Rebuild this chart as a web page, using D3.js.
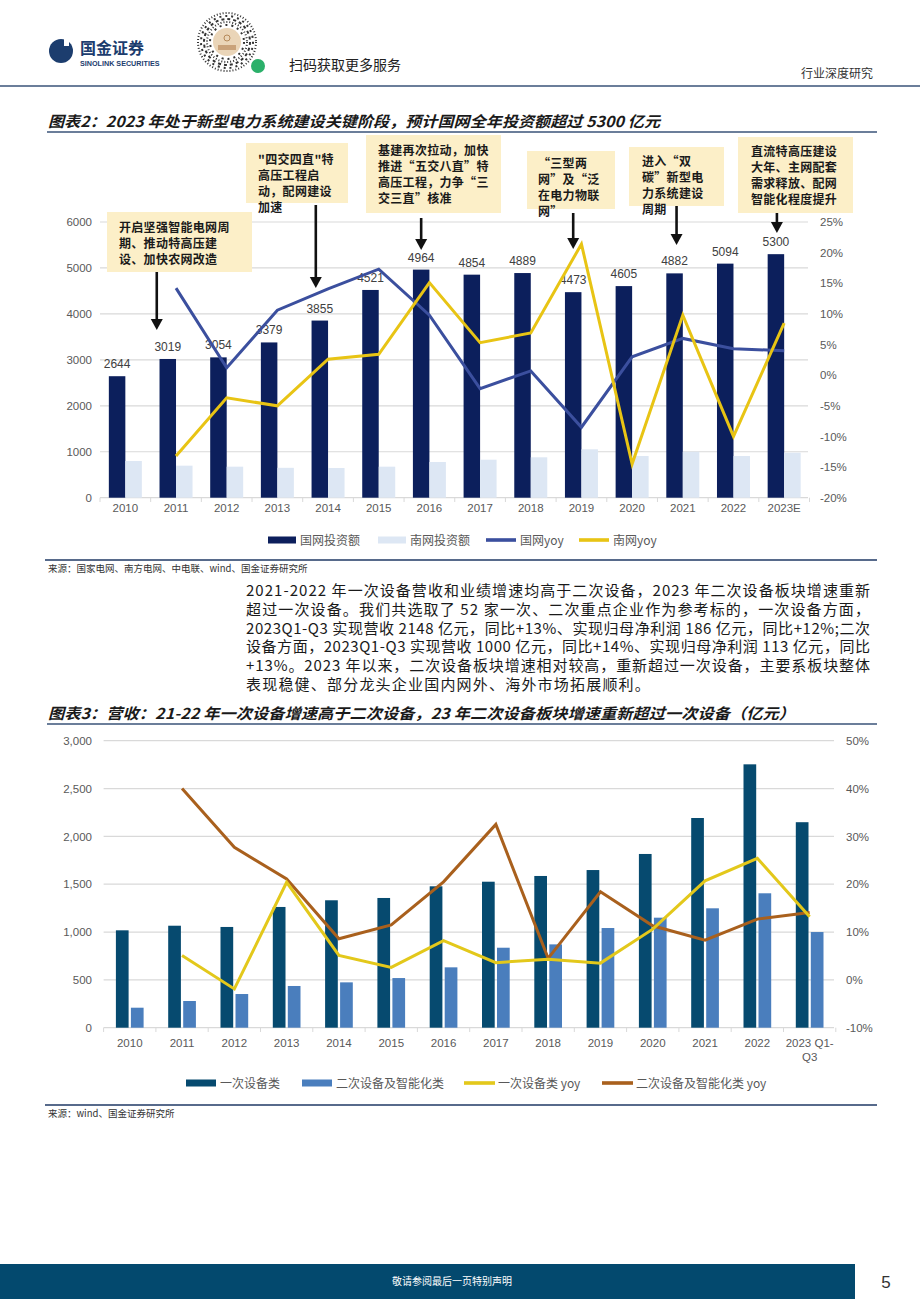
<!DOCTYPE html>
<head>
  <meta charset="utf-8" />
  <script src="https://d3js.org/d3.v7.min.js"></script>
  <style>
    body { margin: 0; background: #fff; }
    text { font-family: "Liberation Sans", Arial, sans-serif; }
    .cjk { font-family: "Noto Sans CJK SC", sans-serif; }
  </style>
</head>
<body>
<script>
// ---------- 图表2 数据 ----------
var years1 = ["2010","2011","2012","2013","2014","2015","2016","2017","2018","2019","2020","2021","2022","2023E"];
var sgccInv = [2644,3019,3054,3379,3855,4521,4964,4854,4889,4473,4605,4882,5094,5300];
var csgInv  = [799,697,675,650,646,675,777,827,879,1053,907,1001,907,980];
var sgccYoy = [null,14.2,1.2,10.6,14.1,17.3,9.8,-2.2,0.7,-8.5,3.0,6.0,4.3,4.0];
var csgYoy  = [null,-13.2,-3.7,-5.0,2.6,3.4,15.1,5.3,6.9,21.4,-14.5,9.8,-10.0,8.5];
var leftTicks1  = [0,1000,2000,3000,4000,5000,6000];
var rightTicks1 = [-20,-15,-10,-5,0,5,10,15,20,25];
var noteYears = ["2011","2014","2016","2019","2021","2023E"];
var noteTexts = [
  ["开启坚强智能电网周","期、推动特高压建","设、加快农网改造"],
  ["\"四交四直\"特","高压工程启","动，配网建设","加速"],
  ["基建再次拉动，加快","推进“五交八直”特","高压工程，力争“三","交三直”核准"],
  ["“三型两","网”及“泛","在电力物联","网”"],
  ["进入“双","碳”新型电","力系统建设","周期"],
  ["直流特高压建设","大年、主网配套","需求释放、配网","智能化程度提升"]
];
var legend1 = ["国网投资额","南网投资额","国网yoy","南网yoy"];

// ---------- 图表3 数据 ----------
var years2 = ["2010","2011","2012","2013","2014","2015","2016","2017","2018","2019","2020","2021","2022","2023 Q1-Q3"];
var primaryRev   = [1018,1066,1053,1262,1332,1356,1478,1526,1586,1648,1816,2192,2753,2148];
var secondaryRev = [209,279,352,436,474,519,631,836,871,1042,1150,1248,1405,1000];
var primaryYoy   = [null,5.1,-1.9,20.4,5.1,2.6,8.2,3.6,4.3,3.5,10.6,20.7,25.4,13.2];
var secondaryYoy = [null,40.0,27.7,21.1,8.6,11.5,20.5,32.5,4.5,18.4,11.3,8.3,12.7,14.1];
var leftTicks2  = [0,500,1000,1500,2000,2500,3000];
var rightTicks2 = [-10,0,10,20,30,40,50];
var legend2 = ["一次设备类","二次设备及智能化类","一次设备类 yoy","二次设备及智能化类 yoy"];

var paragraph = [
  "2021-2022 年一次设备营收和业绩增速均高于二次设备，2023 年二次设备板块增速重新",
  "超过一次设备。我们共选取了 52 家一次、二次重点企业作为参考标的，一次设备方面，",
  "2023Q1-Q3 实现营收 2148 亿元，同比+13%、实现归母净利润 186 亿元，同比+12%;二次",
  "设备方面，2023Q1-Q3 实现营收 1000 亿元，同比+14%、实现归母净利润 113 亿元，同比",
  "+13%。2023 年以来，二次设备板块增速相对较高，重新超过一次设备，主要系板块整体",
  "表现稳健、部分龙头企业国内网外、海外市场拓展顺利。"
];

var svg = d3.select("body").append("svg").attr("width", 920).attr("height", 1302);
var grid = "#d9d9d9", axisTxt = "#595959", rule = "#3a5378";

// ---------- 页眉 ----------
var hd = svg.append("g");
hd.append("circle").attr("cx", 61).attr("cy", 51).attr("r", 12).attr("fill", "#1c3d6e");
hd.append("rect").attr("x", 64).attr("y", 38).attr("width", 5).attr("height", 8).attr("fill", "#fff");
hd.append("text").attr("class", "cjk").attr("x", 80).attr("y", 54).attr("font-size", 16)
  .attr("font-weight", "bold").attr("fill", "#1c3d6e").text("国金证券");
hd.append("text").attr("x", 80).attr("y", 66).attr("font-size", 7.2).attr("font-weight", "bold")
  .attr("fill", "#1c3d6e").text("SINOLINK SECURITIES");
// 小程序码（示意）
var qr = hd.append("g").attr("transform", "translate(227,42)");
[29, 26, 23, 20, 17].forEach(function (r, i) {
  qr.append("circle").attr("r", r).attr("fill", "none").attr("stroke", "#333")
    .attr("stroke-width", 2).attr("stroke-dasharray", (1 + i % 3) + " " + (2 + (i * 2) % 3));
});
qr.append("circle").attr("r", 14).attr("fill", "#ead5b8");
qr.append("circle").attr("cy", -4).attr("r", 3).attr("fill", "none").attr("stroke", "#b5895a");
qr.append("rect").attr("x", -9).attr("y", 3).attr("width", 18).attr("height", 5).attr("fill", "#c9a27a");
hd.append("circle").attr("cx", 258).attr("cy", 66).attr("r", 7).attr("fill", "#2bb06a");
hd.append("text").attr("class", "cjk").attr("x", 289).attr("y", 70).attr("font-size", 14)
  .attr("fill", "#222").text("扫码获取更多服务");
hd.append("text").attr("class", "cjk").attr("x", 873).attr("y", 78).attr("font-size", 12)
  .attr("text-anchor", "end").attr("fill", "#333").text("行业深度研究");
hd.append("line").attr("x1", 0).attr("x2", 920).attr("y1", 86).attr("y2", 86)
  .attr("stroke", rule).attr("stroke-width", 1.5);

function title(y, txt, len) {
  svg.append("text").attr("class", "cjk").attr("x", 48).attr("y", y).attr("font-size", 15)
    .attr("font-weight", "bold").attr("font-style", "italic").attr("fill", "#1a1a1a")
    .attr("textLength", len).attr("lengthAdjust", "spacingAndGlyphs").text(txt);
  svg.append("line").attr("x1", 47).attr("x2", 877).attr("y1", y + 5).attr("y2", y + 5)
    .attr("stroke", rule).attr("stroke-width", 1.5);
}
function source(y, txt) {
  svg.append("line").attr("x1", 45).attr("x2", 877).attr("y1", y).attr("y2", y)
    .attr("stroke", "#1f3864").attr("stroke-width", 1.5);
  svg.append("text").attr("class", "cjk").attr("x", 48).attr("y", y + 12).attr("font-size", 9.5)
    .attr("fill", "#333").text(txt);
}

// ---------- 图表2 ----------
title(127, "图表2：2023 年处于新型电力系统建设关键阶段，预计国网全年投资额超过 5300 亿元", 612);

var x1 = d3.scaleBand().domain(years1).range([100, 809.5]);
var yL1 = d3.scaleLinear().domain([0, 6000]).range([497.7, 222]);
var yR1 = d3.scaleLinear().domain([-20, 25]).range([497.7, 222]);
var c1 = svg.append("g");
var bw1 = 16.5;

c1.selectAll(".g1").data(leftTicks1).join("line")
  .attr("x1", 100).attr("x2", 808).attr("y1", yL1).attr("y2", yL1)
  .attr("stroke", grid).attr("stroke-width", 1.2);
c1.selectAll(".t1").data(d3.range(years1.length + 1)).join("line")
  .attr("x1", function (i) { return 100 + i * x1.step(); })
  .attr("x2", function (i) { return 100 + i * x1.step(); })
  .attr("y1", 497.7).attr("y2", 502).attr("stroke", grid);

c1.append("g").attr("transform", "translate(92,0)")
  .call(d3.axisLeft(yL1).tickValues(leftTicks1).tickSize(0).tickPadding(0).tickFormat(d3.format("d")))
  .call(function (g) { g.select(".domain").remove(); })
  .selectAll("text").attr("font-size", 11.5).attr("fill", axisTxt).attr("font-family", "Liberation Sans, Arial");
c1.append("g").attr("transform", "translate(820,0)")
  .call(d3.axisRight(yR1).tickValues(rightTicks1).tickSize(0).tickPadding(0).tickFormat(function (d) { return d + "%"; }))
  .call(function (g) { g.select(".domain").remove(); })
  .selectAll("text").attr("font-size", 11.5).attr("fill", axisTxt).attr("font-family", "Liberation Sans, Arial");
c1.append("g").attr("transform", "translate(0,500)")
  .call(d3.axisBottom(x1).tickSize(0).tickPadding(4))
  .call(function (g) { g.select(".domain").remove(); })
  .selectAll("text").attr("font-size", 11.5).attr("fill", axisTxt).attr("font-family", "Liberation Sans, Arial");

function cx1(d) { return x1(d) + x1.bandwidth() / 2; }
c1.selectAll(".bs").data(years1).join("rect")
  .attr("x", function (d) { return cx1(d) - bw1; })
  .attr("y", function (d, i) { return yL1(sgccInv[i]); })
  .attr("width", bw1)
  .attr("height", function (d, i) { return yL1(0) - yL1(sgccInv[i]); })
  .attr("fill", "#0c1f5c");
c1.selectAll(".bc").data(years1).join("rect")
  .attr("x", function (d) { return cx1(d); })
  .attr("y", function (d, i) { return yL1(csgInv[i]); })
  .attr("width", bw1)
  .attr("height", function (d, i) { return yL1(0) - yL1(csgInv[i]); })
  .attr("fill", "#dde7f4");
c1.selectAll(".lb").data(years1).join("text")
  .attr("x", function (d) { return cx1(d) - bw1 / 2; })
  .attr("y", function (d, i) { return yL1(sgccInv[i]) - 8; })
  .attr("text-anchor", "middle").attr("font-size", 12).attr("fill", "#404040")
  .text(function (d, i) { return sgccInv[i]; });

function yoyLine(g, x, yS, vals, color) {
  var pts = vals.map(function (v, i) { return [x.domain()[i], v]; }).filter(function (p) { return p[1] !== null; });
  g.append("path").datum(pts)
    .attr("d", d3.line().x(function (p) { return x(p[0]) + x.bandwidth() / 2; }).y(function (p) { return yS(p[1]); }))
    .attr("fill", "none").attr("stroke", color).attr("stroke-width", 3).attr("stroke-linejoin", "miter");
}
yoyLine(c1, x1, yR1, sgccYoy, "#3b4f9e");
yoyLine(c1, x1, yR1, csgYoy, "#e8c414");

// 注释框
var noteBox = [
  [107, 212, 252, 272, 119, 227, -11, 330],
  [246, 143, 348, 203, 258, 159, -4, 288],
  [366, 135, 501, 213, 378, 150, 0, 250],
  [527, 151, 615, 209, 538, 163, 0, 249],
  [629, 147, 724, 206, 642, 161, 2, 245],
  [738, 137, 853, 213, 751, 151, 1, 233]
];
noteTexts.forEach(function (lines, k) {
  var b = noteBox[k];
  var g = c1.append("g");
  g.append("rect").attr("x", b[0]).attr("y", b[1]).attr("width", b[2] - b[0]).attr("height", b[3] - b[1])
    .attr("fill", "#fcefc8");
  lines.forEach(function (s, j) {
    g.append("text").attr("class", "cjk").attr("x", b[4]).attr("y", b[5] + j * 16 + 4.5)
      .attr("font-size", 12).attr("font-weight", "bold").attr("letter-spacing", 0.3)
      .attr("fill", "#1a1a1a").text(s);
  });
  var ax = cx1(noteYears[k]) - bw1 / 2 + b[6];
  var top = b[3] + (k === 1 ? 2 : 0) + (k === 2 ? 5 : 0) + (k === 3 ? 4 : 0);
  g.append("line").attr("x1", ax).attr("x2", ax).attr("y1", top).attr("y2", b[7] - 9)
    .attr("stroke", "#111").attr("stroke-width", 2.6);
  g.append("path").attr("d", "M" + (ax - 6) + "," + (b[7] - 11) + "L" + (ax + 6) + "," + (b[7] - 11) + "L" + ax + "," + b[7] + "Z")
    .attr("fill", "#111");
});

// 图例
var lg1 = svg.append("g").attr("transform", "translate(0,540)");
var lgX1 = [268, 378, 486, 579];
var lgC1 = ["#0c1f5c", "#dde7f4", "#3b4f9e", "#e8c414"];
legend1.forEach(function (s, i) {
  if (i < 2) lg1.append("rect").attr("x", lgX1[i]).attr("y", -3.5).attr("width", 28).attr("height", 7).attr("fill", lgC1[i]);
  else lg1.append("rect").attr("x", lgX1[i]).attr("y", -1.8).attr("width", 30).attr("height", 3.6).attr("fill", lgC1[i]);
  lg1.append("text").attr("class", "cjk").attr("x", lgX1[i] + (i < 2 ? 32 : 34)).attr("y", 4.5)
    .attr("font-size", 12).attr("fill", axisTxt).text(s);
});
source(560, "来源：国家电网、南方电网、中电联、wind、国金证券研究所");

// ---------- 正文 ----------
paragraph.forEach(function (s, i) {
  var t = svg.append("text").attr("class", "cjk").attr("x", 246).attr("y", 596 + i * 18.8)
    .attr("font-size", 15).attr("fill", "#1a1a1a").text(s);
  if (i < paragraph.length - 1) t.attr("textLength", 624).attr("lengthAdjust", "spacing");
  else t.attr("letter-spacing", 1.2);
});

// ---------- 图表3 ----------
title(719, "图表3：营收：21-22 年一次设备增速高于二次设备，23 年二次设备板块增速重新超过一次设备（亿元）", 747);

var x2 = d3.scaleBand().domain(years2).range([103.6, 835.8]);
var yL2 = d3.scaleLinear().domain([0, 3000]).range([1027.7, 740.7]);
var yR2 = d3.scaleLinear().domain([-10, 50]).range([1027.7, 740.7]);
var c2 = svg.append("g");
var bw2 = 12.7, gap2 = 1.15;
function cx2(d) { return x2(d) + x2.bandwidth() / 2; }

c2.selectAll(".g2").data(leftTicks2).join("line")
  .attr("x1", 103.6).attr("x2", 834).attr("y1", yL2).attr("y2", yL2)
  .attr("stroke", grid).attr("stroke-width", 1.2);
c2.selectAll(".t2").data(d3.range(years2.length + 1)).join("line")
  .attr("x1", function (i) { return 103.6 + i * x2.step(); })
  .attr("x2", function (i) { return 103.6 + i * x2.step(); })
  .attr("y1", 1027.7).attr("y2", 1032).attr("stroke", grid);

c2.append("g").attr("transform", "translate(92,0)")
  .call(d3.axisLeft(yL2).tickValues(leftTicks2).tickSize(0).tickPadding(0).tickFormat(d3.format(",")))
  .call(function (g) { g.select(".domain").remove(); })
  .selectAll("text").attr("font-size", 11.5).attr("fill", axisTxt).attr("font-family", "Liberation Sans, Arial");
c2.append("g").attr("transform", "translate(846,0)")
  .call(d3.axisRight(yR2).tickValues(rightTicks2).tickSize(0).tickPadding(0).tickFormat(function (d) { return d + "%"; }))
  .call(function (g) { g.select(".domain").remove(); })
  .selectAll("text").attr("font-size", 11.5).attr("fill", axisTxt).attr("font-family", "Liberation Sans, Arial");
c2.selectAll(".xl").data(years2).join("text")
  .attr("x", cx2).attr("y", 1047).attr("text-anchor", "middle")
  .attr("font-size", 11.5).attr("fill", axisTxt)
  .each(function (d) {
    var parts = d.indexOf("Q1-") > 0 ? ["2023 Q1-", "Q3"] : [d];
    var el = d3.select(this);
    parts.forEach(function (p, j) {
      el.append("tspan").attr("x", cx2(d)).attr("dy", j ? 13.5 : 0).text(p);
    });
  });

c2.selectAll(".bp").data(years2).join("rect")
  .attr("x", function (d) { return cx2(d) - gap2 - bw2; })
  .attr("y", function (d, i) { return yL2(primaryRev[i]); })
  .attr("width", bw2)
  .attr("height", function (d, i) { return yL2(0) - yL2(primaryRev[i]); })
  .attr("fill", "#064a6f");
c2.selectAll(".bsd").data(years2).join("rect")
  .attr("x", function (d) { return cx2(d) + gap2; })
  .attr("y", function (d, i) { return yL2(secondaryRev[i]); })
  .attr("width", bw2)
  .attr("height", function (d, i) { return yL2(0) - yL2(secondaryRev[i]); })
  .attr("fill", "#4a7ebd");
yoyLine(c2, x2, yR2, secondaryYoy, "#a9601d");
yoyLine(c2, x2, yR2, primaryYoy, "#e3c81b");

var lg2 = svg.append("g").attr("transform", "translate(0,1083)");
var lgX2 = [186, 302, 464, 602];
var lgC2 = ["#064a6f", "#4a7ebd", "#e3c81b", "#a9601d"];
legend2.forEach(function (s, i) {
  if (i < 2) lg2.append("rect").attr("x", lgX2[i]).attr("y", -3.5).attr("width", 30).attr("height", 7).attr("fill", lgC2[i]);
  else lg2.append("rect").attr("x", lgX2[i]).attr("y", -1.8).attr("width", 31).attr("height", 3.6).attr("fill", lgC2[i]);
  lg2.append("text").attr("class", "cjk").attr("x", lgX2[i] + 34).attr("y", 4.5)
    .attr("font-size", 12).attr("fill", axisTxt).text(s);
});
source(1105, "来源：wind、国金证券研究所");

// ---------- 页脚 ----------
svg.append("rect").attr("x", 0).attr("y", 1264).attr("width", 855).attr("height", 35).attr("fill", "#03496e");
svg.append("text").attr("class", "cjk").attr("x", 452).attr("y", 1285).attr("text-anchor", "middle")
  .attr("font-size", 10).attr("fill", "#fff").text("敬请参阅最后一页特别声明");
svg.append("text").attr("x", 886).attr("y", 1288).attr("text-anchor", "middle")
  .attr("font-size", 17).attr("fill", "#333").text("5");
</script>
</body>
